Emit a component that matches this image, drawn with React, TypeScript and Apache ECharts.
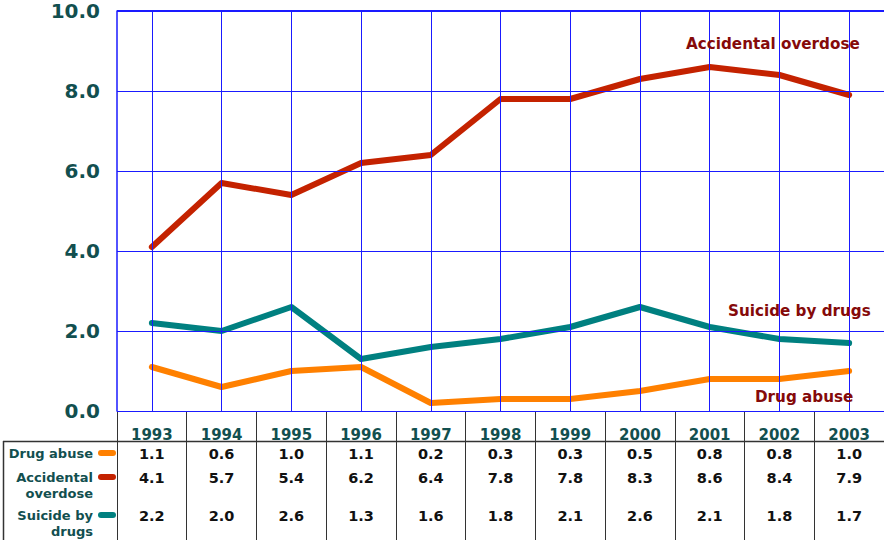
import React, { useEffect, useRef } from "react";
import * as echarts from "echarts";

const years = ["1993", "1994", "1995", "1996", "1997", "1998", "1999", "2000", "2001", "2002", "2003"];
const drugAbuse = [1.1, 0.6, 1.0, 1.1, 0.2, 0.3, 0.3, 0.5, 0.8, 0.8, 1.0];
const accidentalOverdose = [4.1, 5.7, 5.4, 6.2, 6.4, 7.8, 7.8, 8.3, 8.6, 8.4, 7.9];
const suicideByDrugs = [2.2, 2.0, 2.6, 1.3, 1.6, 1.8, 2.1, 2.6, 2.1, 1.8, 1.7];
const yTickValues = [0, 2, 4, 6, 8, 10];

const FONT = "DejaVu Sans";
const BLUE = "#1a1aff";
const TEAL_TEXT = "#124f4f";
const RED_TEXT = "#850a0a";
const C_DRUG = "#ff8000";
const C_ACC = "#c42200";
const C_SUI = "#008080";
const TABLE_LINE = "#333333";

export default function App() {
  const ref = useRef<HTMLDivElement>(null);

  useEffect(() => {
    if (!ref.current) return;
    const chart = echarts.init(ref.current, undefined, { renderer: "svg" });

    const valueAxis = (vals: number[], offset: number) => ({
      type: "category",
      data: years,
      position: "bottom",
      offset,
      boundaryGap: true,
      axisLine: { show: false },
      axisTick: { show: false },
      splitLine: { show: false },
      axisLabel: {
        interval: 0,
        margin: 0,
        fontFamily: FONT,
        fontWeight: "bold",
        fontSize: 14.5,
        color: "#111111",
        formatter: (_v: string, i: number) => vals[i].toFixed(1),
      },
    });

    const rowLabel = (text: string, y: number) => ({
      type: "text",
      x: 93,
      y,
      style: {
        text,
        align: "right",
        verticalAlign: "middle",
        fontFamily: FONT,
        fontWeight: "bold",
        fontSize: 13,
        fill: TEAL_TEXT,
      },
    });
    const swatch = (color: string, y: number) => ({
      type: "line",
      shape: { x1: 101, y1: y, x2: 113, y2: y },
      style: { stroke: color, lineWidth: 6, lineCap: "round" },
    });
    const seriesLabel = (text: string, x: number, y: number) => ({
      type: "text",
      x,
      y,
      z: 10,
      style: {
        text,
        align: "left",
        verticalAlign: "middle",
        fontFamily: FONT,
        fontWeight: "bold",
        fontSize: 15.2,
        fill: RED_TEXT,
      },
    });

    const lineSeries = (name: string, data: number[], color: string) => ({
      name,
      type: "line",
      data,
      z: 3,
      showSymbol: false,
      symbol: "none",
      lineStyle: { color, width: 6, cap: "round", join: "round" },
    });

    chart.setOption({
      animation: false,
      backgroundColor: "#ffffff",
      grid: { left: 117, top: 11, width: 776, height: 400, containLabel: false },
      xAxis: [
        {
          type: "category",
          data: years,
          position: "bottom",
          boundaryGap: true,
          axisLine: { show: false },
          axisTick: { show: true, interval: 0, length: 130, lineStyle: { color: TABLE_LINE, width: 1 } },
          splitLine: { show: false },
          axisLabel: {
            interval: 0,
            margin: 16,
            fontFamily: FONT,
            fontWeight: "bold",
            fontSize: 15,
            color: TEAL_TEXT,
          },
        },
        valueAxis(drugAbuse, 35),
        valueAxis(accidentalOverdose, 59),
        valueAxis(suicideByDrugs, 97),
      ],
      yAxis: {
        type: "value",
        min: yTickValues[0],
        max: yTickValues[yTickValues.length - 1],
        interval: yTickValues[1] - yTickValues[0],
        axisLine: { show: true, lineStyle: { color: BLUE, width: 1.5 } },
        axisTick: { show: false },
        splitLine: { show: false },
        axisLabel: {
          margin: 17,
          fontFamily: FONT,
          fontWeight: "bold",
          fontSize: 20,
          color: TEAL_TEXT,
          formatter: (v: number) => v.toFixed(1),
        },
      },
      series: [
        {
          type: "line",
          data: [],
          z: 1,
          silent: true,
          markLine: {
            silent: true,
            symbol: ["none", "none"],
            label: { show: false },
            lineStyle: { color: BLUE, width: 1, type: "solid", opacity: 1 },
            data: [
              ...years.map((y) => ({ xAxis: y })),
              ...yTickValues.map((v) => ({ yAxis: v })),
            ],
          },
        },
        lineSeries("Drug abuse", drugAbuse, C_DRUG),
        lineSeries("Accidental overdose", accidentalOverdose, C_ACC),
        lineSeries("Suicide by drugs", suicideByDrugs, C_SUI),
      ],
      graphic: [
        {
          type: "line",
          shape: { x1: 117, y1: 11, x2: 884, y2: 11 },
          style: { stroke: BLUE, lineWidth: 2 },
        },
        {
          type: "line",
          shape: { x1: 3, y1: 441.5, x2: 884, y2: 441.5 },
          style: { stroke: TABLE_LINE, lineWidth: 1.5 },
        },
        {
          type: "line",
          shape: { x1: 3.5, y1: 441, x2: 3.5, y2: 540 },
          style: { stroke: TABLE_LINE, lineWidth: 1.5 },
        },
        rowLabel("Drug abuse", 453),
        rowLabel("Accidental", 477),
        rowLabel("overdose", 493),
        rowLabel("Suicide by", 515),
        rowLabel("drugs", 531),
        swatch(C_DRUG, 453),
        swatch(C_ACC, 477),
        swatch(C_SUI, 515),
        seriesLabel("Accidental overdose", 686, 44),
        seriesLabel("Suicide by drugs", 728, 311),
        seriesLabel("Drug abuse", 755, 397),
      ],
    });

    return () => chart.dispose();
  }, []);

  return (
    <div
      ref={ref}
      style={{ position: "absolute", left: 0, top: 0, width: 884, height: 540, background: "#fff" }}
    />
  );
}
